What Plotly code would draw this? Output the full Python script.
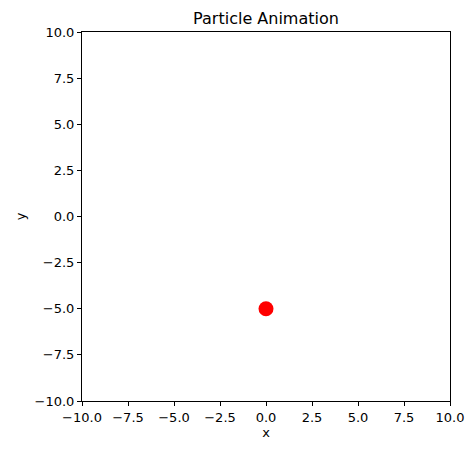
import plotly.graph_objects as go

# particle position
particle_x = [0.0]
particle_y = [-5.0]

tick_vals = [-10, -7.5, -5, -2.5, 0, 2.5, 5, 7.5, 10]

fig = go.Figure()
fig.add_trace(go.Scatter(x=particle_x, y=particle_y, mode="markers",
                         marker=dict(color="red", size=15, line=dict(width=0)),
                         showlegend=False))

axis_style = dict(range=[-10, 10], tickvals=tick_vals, tickformat=".1f",
                  showgrid=False, zeroline=False, showline=True, mirror=True,
                  linecolor="black", linewidth=1, ticks="outside", ticklen=4,
                  tickcolor="black", tickfont=dict(size=13, color="black"),
                  title_font=dict(size=13, color="black"))

fig.update_xaxes(title_text="x", title_standoff=4, **axis_style)
fig.update_yaxes(title_text="y", title_standoff=6, **axis_style)

# page body has an 8px margin, so margins are shifted to compensate
fig.update_layout(
    width=476, height=455,
    margin=dict(l=74, r=34, t=24, b=62),
    plot_bgcolor="white", paper_bgcolor="white",
    font=dict(family="DejaVu Sans", color="black"),
    title=dict(text="Particle Animation", xref="paper", x=0.5, xanchor="center",
               y=1 - 10 / 455, yanchor="middle", font=dict(size=16)),
)

fig.write_html("out.html")
